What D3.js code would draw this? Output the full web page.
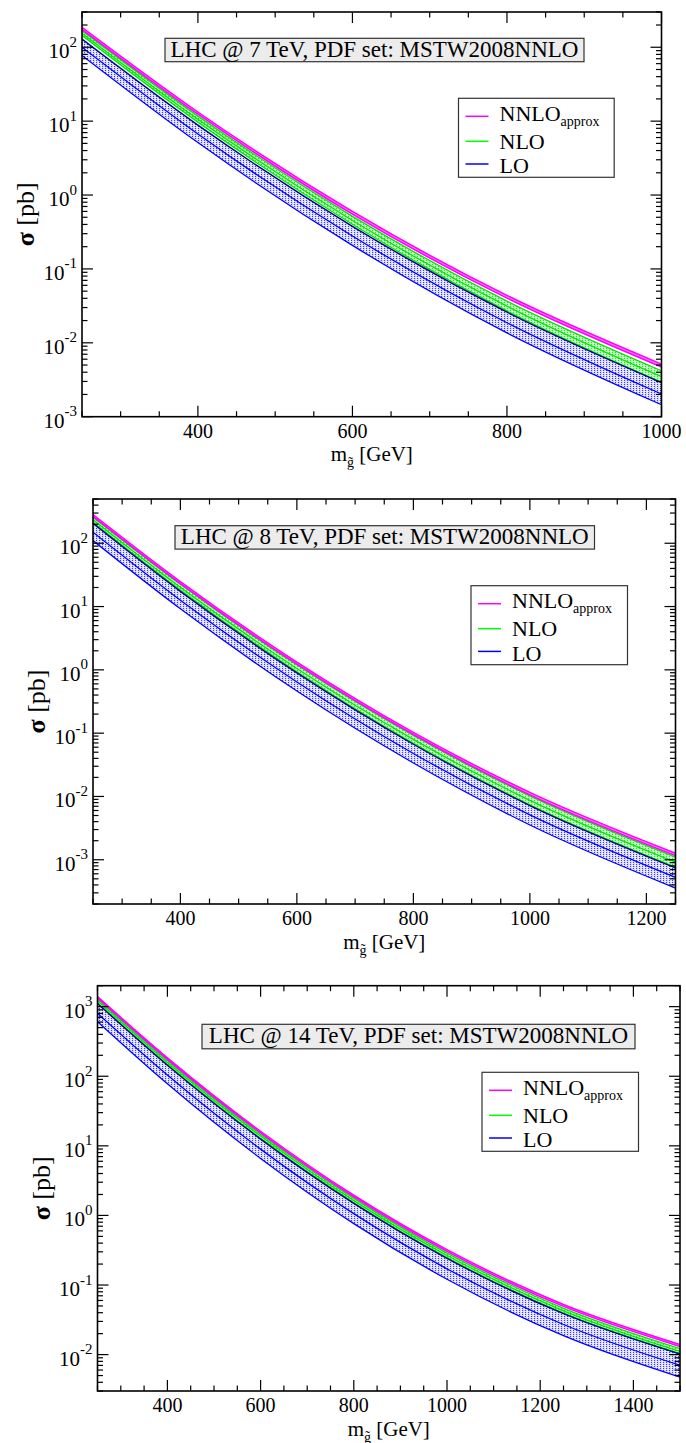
<!DOCTYPE html>
<html>
<head>
<meta charset="utf-8">
<script src="https://cdn.jsdelivr.net/npm/d3@7"></script>
<style>
  body { margin: 0; background: #fff; }
  text { font-family: "Liberation Serif", "Times New Roman", serif; fill: #000; }
</style>
</head>
<body>
<div id="content"></div>
<script>
// ---- LHC @ 7 TeV ----
var mass7   = [250, 400, 600, 800, 1000];
var nnloHi7 = [186, 13.3, 0.600, 0.0438, 0.00515];
var nnloLo7 = [174, 12.4, 0.553, 0.0402, 0.0047];
var nloHi7  = [168, 11.7, 0.515, 0.0366, 0.00419];
var nlo7    = [155, 10.6, 0.453, 0.0313, 0.00348];
var nloLo7  = [145, 9.70, 0.402, 0.0270, 0.00292];
var loHi7   = [129, 8.83, 0.377, 0.0260, 0.0029];
var lo7     = [100, 6.71, 0.279, 0.0187, 0.00203];
var loLo7   = [77.6, 5.13, 0.208, 0.0136, 0.00145];

// ---- LHC @ 8 TeV ----
var mass8   = [250, 400, 600, 800, 1000, 1250];
var nnloHi8 = [284, 24.8, 1.33, 0.103, 0.0116, 0.00127];
var nnloLo8 = [265, 23.1, 1.23, 0.0952, 0.0106, 0.00116];
var nloHi8  = [259, 22.5, 1.19, 0.0918, 0.0102, 0.0011];
var nlo8    = [236, 20.2, 1.05, 0.0796, 0.00869, 0.000918];
var nloLo8  = [215, 18.2, 0.931, 0.0690, 0.0074, 0.000764];
var loHi8   = [206, 17.4, 0.896, 0.0668, 0.00719, 0.000746];
var lo8     = [149, 12.6, 0.644, 0.0478, 0.00512, 0.000528];
var loLo8   = [110, 9.20, 0.462, 0.0337, 0.00354, 0.000357];

// ---- LHC @ 14 TeV ----
var mass14   = [250, 400, 600, 800, 1000, 1250, 1500];
var nnloHi14 = [1393, 184, 16.2, 1.95, 0.322, 0.0526, 0.0140];
var nnloLo14 = [1330, 175, 15.4, 1.85, 0.304, 0.0493, 0.0131];
var nloHi14  = [1285, 168, 14.7, 1.76, 0.287, 0.0463, 0.0122];
var nlo14    = [1213, 158, 13.8, 1.63, 0.266, 0.0426, 0.0111];
var nloLo14  = [1132, 147, 12.8, 1.52, 0.247, 0.0394, 0.0103];
var loHi14   = [1107, 144, 12.5, 1.49, 0.242, 0.0388, 0.0102];
var lo14     = [802, 104, 8.97, 1.06, 0.171, 0.0271, 0.00703];
var loLo14   = [608, 77.8, 6.59, 0.763, 0.121, 0.0187, 0.00475];

// axes
var xTicks7 = [400, 600, 800, 1000];
var xTicks8 = [400, 600, 800, 1000, 1200];
var xTicks14 = [400, 600, 800, 1000, 1200, 1400];
var yExp7 = [-3, -2, -1, 0, 1, 2];
var yExp8 = [-3, -2, -1, 0, 1, 2];
var yExp14 = [-2, -1, 0, 1, 2, 3];

var titles = ["LHC @ 7 TeV, PDF set: MSTW2008NNLO",
              "LHC @ 8 TeV, PDF set: MSTW2008NNLO",
              "LHC @ 14 TeV, PDF set: MSTW2008NNLO"];
var legendNames = ["NNLO", "NLO", "LO"];

var panels = [
  { key: "7", mass: mass7, nnloHi: nnloHi7, nnloLo: nnloLo7, nloHi: nloHi7, nlo: nlo7, nloLo: nloLo7,
    loHi: loHi7, lo: lo7, loLo: loLo7, xTicks: xTicks7, yExp: yExp7, title: titles[0],
    xDomain: [250, 1000], yDomain: [1e-3, 300],
    left: 82, right: 661.5, top: 12, bottom: 416.7,
    tbox: [165, 38.3, 419, 23.4], lbox: [458.5, 98.3, 155.7, 79] },
  { key: "8", mass: mass8, nnloHi: nnloHi8, nnloLo: nnloLo8, nloHi: nloHi8, nlo: nlo8, nloLo: nloLo8,
    loHi: loHi8, lo: lo8, loLo: loLo8, xTicks: xTicks8, yExp: yExp8, title: titles[1],
    xDomain: [250, 1250], yDomain: [2e-4, 500],
    left: 93, right: 675.5, top: 499, bottom: 904,
    tbox: [175, 525.7, 419.5, 23.4], lbox: [471, 585.7, 156.5, 79] },
  { key: "14", mass: mass14, nnloHi: nnloHi14, nnloLo: nnloLo14, nloHi: nloHi14, nlo: nlo14, nloLo: nloLo14,
    loHi: loHi14, lo: lo14, loLo: loLo14, xTicks: xTicks14, yExp: yExp14, title: titles[2],
    xDomain: [250, 1500], yDomain: [3e-3, 2000],
    left: 97.5, right: 680, top: 985.7, bottom: 1391,
    tbox: [202, 1024.3, 433, 24.5], lbox: [482, 1072.3, 156.5, 79] }
];

var svg = d3.select("#content").append("svg")
  .attr("width", 686).attr("height", 1443);

var defs = svg.append("defs");

// dotted fills like the grace pattern fills
var patLo = defs.append("pattern").attr("id", "patLo")
  .attr("width", 3).attr("height", 2).attr("patternUnits", "userSpaceOnUse");
patLo.append("rect").attr("width", 3).attr("height", 2).attr("fill", "#d8d8ff");
patLo.append("rect").attr("x", 0).attr("y", 0).attr("width", 1).attr("height", 1).attr("fill", "#3c3cff");
patLo.append("rect").attr("x", 2).attr("y", 1).attr("width", 1).attr("height", 1).attr("fill", "#ffffff");

var patNlo = defs.append("pattern").attr("id", "patNlo")
  .attr("width", 3).attr("height", 2).attr("patternUnits", "userSpaceOnUse");
patNlo.append("rect").attr("width", 3).attr("height", 2).attr("fill", "#b4ffb4");
patNlo.append("rect").attr("x", 0).attr("y", 0).attr("width", 1).attr("height", 1).attr("fill", "#22e622");
patNlo.append("rect").attr("x", 2).attr("y", 1).attr("width", 1).attr("height", 1).attr("fill", "#ffffff");

panels.forEach(drawPanel);

function drawPanel(p) {
  var x = d3.scaleLinear().domain(p.xDomain).range([p.left, p.right]);
  var y = d3.scaleLog().domain(p.yDomain).range([p.bottom, p.top]);

  var g = svg.append("g").attr("class", "panel" + p.key);

  defs.append("clipPath").attr("id", "clip" + p.key)
    .append("rect")
    .attr("x", p.left).attr("y", p.top)
    .attr("width", p.right - p.left).attr("height", p.bottom - p.top);

  var plot = g.append("g").attr("clip-path", "url(#clip" + p.key + ")");

  function band(lo, hi) {
    return d3.area()
      .x(function (d, i) { return x(p.mass[i]); })
      .y0(function (d, i) { return y(lo[i]); })
      .y1(function (d, i) { return y(hi[i]); })
      .curve(d3.curveMonotoneX)(p.mass);
  }
  function curve(v) {
    return d3.line()
      .x(function (d, i) { return x(p.mass[i]); })
      .y(function (d, i) { return y(v[i]); })
      .curve(d3.curveMonotoneX)(p.mass);
  }

  plot.append("path").attr("d", band(p.loLo, p.loHi)).attr("fill", "url(#patLo)");
  plot.append("path").attr("d", band(p.nloLo, p.nloHi)).attr("fill", "url(#patNlo)");
  plot.append("path").attr("d", band(p.nnloLo, p.nnloHi)).attr("fill", "#ff7aff");

  [p.loLo, p.lo].forEach(function (v) {
    plot.append("path").attr("d", curve(v)).attr("fill", "none")
      .attr("stroke", "#0000ff").attr("stroke-width", 1.3);
  });
  [p.nloHi, p.nlo, p.nloLo].forEach(function (v) {
    plot.append("path").attr("d", curve(v)).attr("fill", "none")
      .attr("stroke", "#00e600").attr("stroke-width", 1.3);
  });
  plot.append("path").attr("d", curve(p.loHi)).attr("fill", "none")
    .attr("stroke", "#000090").attr("stroke-width", 1.4);
  [p.nnloHi, p.nnloLo].forEach(function (v) {
    plot.append("path").attr("d", curve(v)).attr("fill", "none")
      .attr("stroke", "#ff00ff").attr("stroke-width", 1.5);
  });

  // frame
  g.append("rect")
    .attr("x", p.left).attr("y", p.top)
    .attr("width", p.right - p.left).attr("height", p.bottom - p.top)
    .attr("fill", "none").attr("stroke", "#000").attr("stroke-width", 1.6);

  // ticks (inside, all four sides)
  var ticks = g.append("g").attr("stroke", "#000").attr("stroke-width", 1.2);
  var xMinor = d3.range(p.xDomain[0], p.xDomain[1] + 1, 50);
  xMinor.forEach(function (m) {
    var len = p.xTicks.indexOf(m) >= 0 ? 11 : 5.5;
    ticks.append("line").attr("x1", x(m)).attr("x2", x(m)).attr("y1", p.bottom).attr("y2", p.bottom - len);
    ticks.append("line").attr("x1", x(m)).attr("x2", x(m)).attr("y1", p.top).attr("y2", p.top + len);
  });
  var e0 = Math.floor(Math.log10(p.yDomain[0])), e1 = Math.ceil(Math.log10(p.yDomain[1]));
  d3.range(e0, e1 + 1).forEach(function (e) {
    d3.range(1, 10).forEach(function (k) {
      var v = k * Math.pow(10, e);
      if (v < p.yDomain[0] * 0.999 || v > p.yDomain[1] * 1.001) return;
      var len = k === 1 ? 11 : 5.5;
      ticks.append("line").attr("x1", p.left).attr("x2", p.left + len).attr("y1", y(v)).attr("y2", y(v));
      ticks.append("line").attr("x1", p.right).attr("x2", p.right - len).attr("y1", y(v)).attr("y2", y(v));
    });
  });

  // x tick labels
  p.xTicks.forEach(function (m) {
    g.append("text").attr("x", x(m)).attr("y", p.bottom + 21)
      .attr("text-anchor", "middle").style("font-size", "20px").text(m);
  });

  // y tick labels 10^n
  p.yExp.forEach(function (e) {
    var t = g.append("text").attr("x", p.left - 5).attr("y", y(Math.pow(10, e)) + 11)
      .attr("text-anchor", "end").style("font-size", "21px");
    t.append("tspan").text("10");
    t.append("tspan").attr("dy", -11.5).style("font-size", "15px").text(e);
  });

  // axis titles
  var xt = g.append("text").attr("x", (p.left + p.right) / 2).attr("y", p.bottom + 44.5)
    .attr("text-anchor", "middle").style("font-size", "21px");
  xt.append("tspan").text("m");
  xt.append("tspan").attr("dy", 6).style("font-size", "14px").text("g\u0303");
  xt.append("tspan").attr("dy", -6).text(" [GeV]");

  var yt = g.append("text")
    .attr("transform", "translate(" + (p.left - 57) + "," + ((p.top + p.bottom) / 2) + ") rotate(-90)")
    .attr("text-anchor", "middle").attr("dy", "0.35em").style("font-size", "26px");
  yt.append("tspan").style("font-weight", "bold").text("\u03c3");
  yt.append("tspan").text(" [pb]");

  // title box
  g.append("rect").attr("x", p.tbox[0]).attr("y", p.tbox[1])
    .attr("width", p.tbox[2]).attr("height", p.tbox[3])
    .attr("fill", "#ececec").attr("stroke", "#333").attr("stroke-width", 1.2);
  g.append("text").attr("x", p.tbox[0] + p.tbox[2] / 2).attr("y", p.tbox[1] + 18.4)
    .attr("text-anchor", "middle").style("font-size", "23px").text(p.title);

  // legend
  var lb = p.lbox;
  g.append("rect").attr("x", lb[0]).attr("y", lb[1]).attr("width", lb[2]).attr("height", lb[3])
    .attr("fill", "#fff").attr("stroke", "#333").attr("stroke-width", 1.2);
  var legColors = ["#ff00ff", "#00ff00", "#0000ff"];
  var lineY = [18, 43, 65.7];
  var textY = [22.5, 50.3, 75];
  legendNames.forEach(function (name, i) {
    g.append("line").attr("x1", lb[0] + 7).attr("x2", lb[0] + 30)
      .attr("y1", lb[1] + lineY[i]).attr("y2", lb[1] + lineY[i])
      .attr("stroke", legColors[i]).attr("stroke-width", 1.5);
    var t = g.append("text").attr("x", lb[0] + 41).attr("y", lb[1] + textY[i])
      .style("font-size", "22px").text(name);
    if (i === 0) {
      t.append("tspan").attr("dy", 5).style("font-size", "14px").text("approx");
    }
  });
}
</script>
</body>
</html>
